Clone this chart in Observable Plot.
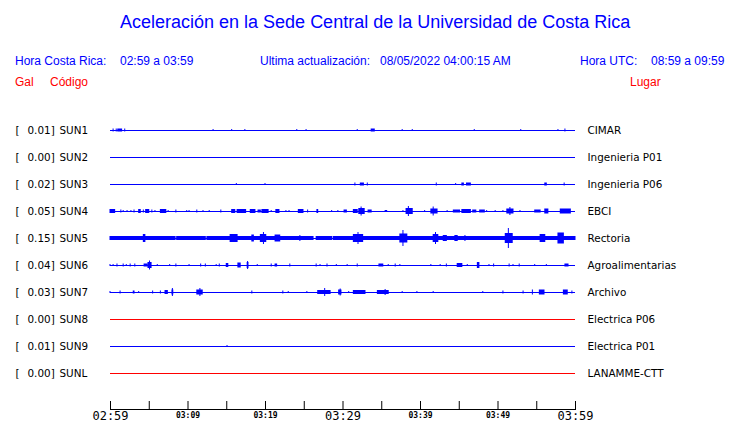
<!DOCTYPE html>
<html><head><meta charset="utf-8">
<script src="https://cdn.jsdelivr.net/npm/d3@7"></script>
<script src="https://cdn.jsdelivr.net/npm/@observablehq/plot@0.6"></script>
<style>
body{margin:0;background:#fff}
#wrap{position:relative;width:740px;height:423px;overflow:hidden}
#wrap svg{position:absolute;left:0;top:0}
.t{position:absolute;white-space:nowrap;font-family:"Liberation Sans",Arial,sans-serif;font-size:12px;line-height:12px;color:#0000ff}
.r{color:#ff0000}
.title{font-size:18px;line-height:18px}
</style></head><body>
<div id="wrap"></div>
<script>
// ---- texts ----
const title = "Aceleración en la Sede Central de la Universidad de Costa Rica";
const localLabel = "Hora Costa Rica:", localRange = "02:59 a 03:59";
const updLabel = "Ultima actualización:", updValue = "08/05/2022 04:00:15 AM";
const utcLabel = "Hora UTC:", utcRange = "08:59 a 09:59";
const colGal = "Gal", colCode = "Código", colPlace = "Lugar";

// ---- stations ----
const codes = ["SUN1","SUN2","SUN3","SUN4","SUN5","SUN6","SUN7","SUN8","SUN9","SUNL"];
const gal = [0.01,0.00,0.02,0.05,0.15,0.04,0.03,0.00,0.01,0.00];
const places = ["CIMAR","Ingenieria P01","Ingenieria P06","EBCI","Rectoria","Agroalimentarias","Archivo","Electrica P06","Electrica P01","LANAMME-CTT"];
const offline = ["SUN8","SUNL"];

// ---- time axis (minutes after 02:59) ----
const timeSpan = [0, 60];
const tickMinutes = [0,5,10,15,20,25,30,35,40,45,50,55,60];
const majorTicks = [0,30,60];
const majorLabels = ["02:59","03:29","03:59"];
const minorTicks = [10,20,40,50];
const minorLabels = ["03:09","03:19","03:39","03:49"];

// ---- trace activity: [start min, end min, amplitude] ----
const burstsSUN1 = [[0.4,0.4,1.5],[0.8,0.8,1.5],[1.0,1.5,1.5],[1.9,1.9,1.5],[13.3,13.3,1],[15.7,15.7,1],[17.4,17.4,1],[24.1,24.1,1],[25.3,25.3,1],[31.9,31.9,1],[33.7,34.1,1.5],[37.7,37.7,1],[39.0,39.0,1],[47.0,47.0,1],[53.0,53.0,1],[57.8,57.8,1],[58.7,58.7,1.5]];
const burstsSUN2 = [];
const burstsSUN3 = [[16.3,16.3,1],[20.0,20.0,1],[31.6,31.6,1.5],[32.3,32.7,1.5],[33.2,33.2,1.5],[42.1,42.1,1.5],[44.6,44.6,1],[45.4,45.6,1.5],[46.0,46.5,1.5],[56.1,56.3,1.5],[58.6,58.6,1.5]];
const burstsSUN4 = [[0,0.6,2],[1.4,1.4,1.5],[1.7,1.7,1],[2.2,2.2,1],[2.7,2.7,1],[3.1,3.1,1.5],[3.7,3.9,2],[4.3,4.3,1.5],[4.6,5.0,2],[5.4,5.4,1.5],[5.8,5.8,1],[6.5,7.2,2],[7.5,7.5,1],[8.5,8.5,1.5],[9.9,9.9,1],[10.2,10.2,1],[11.2,11.2,1.5],[12.0,12.0,1],[12.8,12.8,1],[14.3,14.3,1.5],[15.7,16.1,2],[16.4,17.5,2],[18.1,18.7,2],[19.1,19.4,1.5],[19.6,20.4,2],[20.8,20.8,1],[21.4,21.8,2],[22.7,22.7,1],[23.1,23.1,1],[24.3,24.9,2],[25.5,25.5,1.5],[26.7,26.8,2],[28.6,28.6,1],[29.4,29.4,1],[30.2,30.5,1.5],[31.4,31.9,2],[32.1,32.8,3],[32.4,32.4,4.5],[33.3,33.7,1.5],[35.5,35.7,1],[37.8,37.8,1],[38.2,39.0,3],[38.5,38.5,5],[40.6,40.6,1],[41.4,42.2,2.5],[41.7,41.7,4.5],[43.5,43.5,1],[44.3,45.1,1.5],[45.4,46.5,2],[46.8,47.2,1.5],[47.7,48.3,1.5],[48.6,48.6,1],[49.7,49.7,1],[50.7,50.7,1],[51.2,52.0,2.5],[51.6,51.6,4],[52.9,52.9,1],[54.8,55.5,1.5],[56.1,56.5,2.5],[58.1,59.4,2.5]];
const burstsSUN5 = [[0,8.4,2],[8.6,12.3,2],[12.5,26.2,2],[26.6,28.6,2],[28.8,60,2],[4.3,4.5,4],[15.5,16.4,4],[18.3,18.5,3.5],[19.4,20.1,4],[19.8,19.8,6],[21.3,21.9,3.5],[24.5,24.5,3],[31.4,32.6,4],[32.0,32.0,6],[37.4,38.3,4.5],[37.8,37.8,8],[41.7,42.3,4],[42.0,42.0,6],[43.0,43.4,3],[44.5,44.8,3],[45.8,45.8,3],[51.0,51.9,5],[51.4,51.4,10],[55.5,56.1,4],[57.8,58.5,5.5]];
const burstsSUN6 = [[0,0,1],[0.4,0.4,1],[0.9,0.9,1.5],[1.7,1.7,1.5],[2.1,2.1,1],[2.6,2.6,1.5],[3.2,3.2,1.5],[4.4,4.8,1.5],[4.9,5.3,3],[5.1,5.1,4.5],[6.1,6.1,1],[7.7,7.7,1],[8.5,8.5,1.5],[10.2,10.2,1],[11.7,11.7,1.5],[12.3,12.3,1.5],[13.7,13.7,1],[14.1,14.1,1.5],[15.0,15.2,2],[16.5,16.8,2.5],[17.7,17.8,3],[17.75,17.75,4],[19.0,19.0,1],[20.8,20.8,1.5],[21.3,21.5,1.5],[23.2,23.2,1.5],[26.6,26.6,1.5],[27.1,27.1,1],[28.0,28.0,1.5],[29.2,29.2,1],[30.6,30.6,1],[31.9,31.9,1.5],[34.7,35.2,1.5],[35.9,35.9,1],[36.8,36.8,1.5],[37.4,37.4,1],[41.4,41.4,1],[42.6,42.6,1],[43.4,43.4,1.5],[44.8,45.4,2],[46.1,46.1,1],[47.4,47.6,3],[48.9,48.9,1],[49.5,49.5,1.5],[51.5,51.5,1.5],[52.0,52.0,1],[52.8,52.8,1.5],[54.8,54.8,1],[56.3,56.3,1],[58.7,59.1,1.5]];
const burstsSUN7 = [[0,0,1],[1.3,1.3,1.5],[3.0,3.1,1.5],[3.7,3.7,1],[5.5,5.5,1.5],[6.5,6.5,1.5],[7.1,7.4,2],[8.0,8.1,2.5],[8.05,8.05,4],[11.2,11.9,2.5],[11.6,11.6,4],[18.3,18.3,1.5],[22.3,22.3,1.5],[23.0,23.0,1],[25.4,25.4,1],[26.8,28.4,2],[27.7,27.7,4],[29.5,29.8,2.5],[29.7,29.7,3.5],[30.8,30.8,1],[31.4,32.9,2],[34.5,35.9,2],[35.5,35.5,3],[37.7,37.7,1],[39.6,39.6,1],[41.7,41.7,1],[48.1,48.1,1],[50.7,50.7,1.5],[53.3,53.3,1.5],[54.5,54.5,2.5],[55.4,56.0,2.5],[58.5,59.0,2.5],[59.6,59.6,1.5]];
const burstsSUN8 = [];
const burstsSUN9 = [[15.1,15.1,1]];
const burstsSUNL = [];

// ---- build tables ----
const burstLists = [burstsSUN1,burstsSUN2,burstsSUN3,burstsSUN4,burstsSUN5,burstsSUN6,burstsSUN7,burstsSUN8,burstsSUN9,burstsSUNL];
const colorOf = c => offline.includes(c) ? "#ff0000" : "#0000ff";
const rows = codes.map((c,i) => ({code:c, row:i, gal:gal[i], place:places[i], color:colorOf(c)}));
const bursts = [];
burstLists.forEach((list,i) => list.forEach(([t1,t2,amp]) => bursts.push({row:i, t1, t2, amp, color:colorOf(codes[i])})));
const gain = 1/27; // amplitude units -> row spacing

const labelFont = "DejaVu Sans";
const plot = Plot.plot({
  width: 740, height: 423,
  marginLeft: 110, marginRight: 165, marginTop: 0, marginBottom: 14,
  style: {background: "transparent"},
  x: {domain: timeSpan, axis: null},
  y: {domain: [0, 9], range: [130, 373], axis: null},
  color: {type: "identity"},
  marks: [
    Plot.ruleY(rows, {y: "row", x1: () => timeSpan[0], x2: () => timeSpan[1], stroke: "color", strokeWidth: 1}),
    Plot.rect(bursts, {x1: "t1", x2: "t2", y1: d => d.row - d.amp*gain, y2: d => d.row + d.amp*gain, fill: "color", insetLeft: -0.5, insetRight: -0.5}),
    Plot.text(rows, {y: "row", frameAnchor: "left", dx: -95, text: () => "[", textAnchor: "start", fontFamily: labelFont, fontSize: 10.4, fill: "black"}),
    Plot.text(rows, {y: "row", frameAnchor: "left", dx: -83, text: d => d.gal.toFixed(2) + "]", textAnchor: "start", fontFamily: labelFont, fontSize: 10.4, fill: "black"}),
    Plot.text(rows, {y: "row", frameAnchor: "left", dx: -51, text: "code", textAnchor: "start", fontFamily: labelFont, fontSize: 10.4, fill: "black"}),
    Plot.text(rows, {y: "row", frameAnchor: "right", dx: 12, text: "place", textAnchor: "start", fontFamily: labelFont, fontSize: 10.4, fill: "black"}),
    Plot.frame({anchor: "bottom", stroke: "black"}),
    Plot.ruleX(tickMinutes, {x: d => d, insetTop: 401, stroke: "black"}),
    Plot.text(majorTicks, {x: d => d, text: (d,i) => majorLabels[i], frameAnchor: "bottom", lineAnchor: "middle", dy: 7, fontSize: 12, fontFamily: "DejaVu Sans Mono", fill: "black"}),
    Plot.text(minorTicks, {x: d => d, text: (d,i) => minorLabels[i], frameAnchor: "bottom", lineAnchor: "middle", dy: 6, fontSize: 8, fontWeight: "bold", fontFamily: "DejaVu Sans Mono", fill: "black"})
  ]
});
const wrap = document.getElementById("wrap");
wrap.appendChild(plot);

function addText(txt, left, top, cls) {
  const d = document.createElement("div");
  d.className = "t " + (cls || "");
  d.style.left = left + "px"; d.style.top = top + "px";
  d.textContent = txt;
  wrap.appendChild(d);
}
addText(title, 120, 13, "title");
addText(localLabel, 15, 55);
addText(localRange, 120, 55);
addText(updLabel, 260, 55);
addText(updValue, 380, 55);
addText(utcLabel, 580, 55);
addText(utcRange, 651, 55);
addText(colGal, 15, 76, "r");
addText(colCode, 50, 76, "r");
addText(colPlace, 630, 76, "r");
</script>
</body></html>
